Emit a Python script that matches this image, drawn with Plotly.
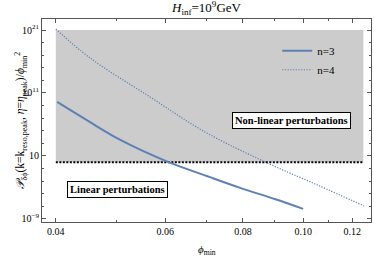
import math
import plotly.graph_objects as go

# ---- data ----
phi_n3 = [0.0402, 0.045, 0.0508, 0.0606, 0.07, 0.0792, 0.09, 0.100]
logP_n3 = [9.57, 6.6, 3.54, 0.05, -2.2, -4.08, -5.85, -7.41]

phi_n4 = [0.040, 0.0454, 0.0567, 0.0695, 0.0868, 0.1053, 0.1253]
logP_n4 = [21.16, 16.56, 10.37, 4.81, 0.05, -3.6, -6.94]

region_x = [0.040, 0.125]
threshold = 1.0
region_top = 1e21

xtick_vals = [0.04, 0.06, 0.08, 0.10, 0.12]
xtick_text = ["0.04", "0.06", "0.08", "0.10", "0.12"]
xminor_vals = [0.05, 0.07, 0.09, 0.11]
ytick_vals = [1e21, 1e11, 1e1, 1e-9]
ytick_text = ["10<sup>21</sup>", "10<sup>11</sup>", "10", "10<sup>−9</sup>"]
yminor_vals = [10.0 ** k for k in range(-9, 23, 2) if k not in (-9, 1, 11, 21)]

P_n3 = [10 ** v for v in logP_n3]
P_n4 = [10 ** v for v in logP_n4]

blue = "rgb(94,129,181)"
font = "Liberation Serif"
axc = "#555"

fig = go.Figure()
fig.add_trace(go.Scatter(
    x=[region_x[0], region_x[1], region_x[1], region_x[0], region_x[0]],
    y=[threshold, threshold, region_top, region_top, threshold],
    fill="toself", fillcolor="rgb(204,204,204)", line=dict(width=0),
    mode="lines", showlegend=False, hoverinfo="skip"))
fig.add_trace(go.Scatter(
    x=region_x, y=[threshold, threshold], mode="lines",
    line=dict(color="black", width=2, dash="2px,1.5px"), showlegend=False))
fig.add_trace(go.Scatter(
    x=phi_n3, y=P_n3, mode="lines", name="n=3",
    line=dict(color=blue, width=2, shape="spline")))
fig.add_trace(go.Scatter(
    x=phi_n4, y=P_n4, mode="lines", name="n=4",
    line=dict(color=blue, width=1.2, dash="1.2px,1.5px", shape="spline")))

fig.add_annotation(x=0.5, y=1, xref="paper", yref="paper", yanchor="bottom",
                   yshift=0, showarrow=False,
                   text="<i>H</i><sub>inf</sub>=10<sup>9</sup>GeV",
                   font=dict(family=font, size=13, color="black"))
fig.add_annotation(x=-1.018, y=6.7, showarrow=False,
                   text="<b>Non-linear perturbations</b>",
                   font=dict(family=font, size=10.5, color="black"),
                   bgcolor="white", bordercolor="black", borderwidth=1, borderpad=2)
fig.add_annotation(x=-1.2995, y=-4.26, showarrow=False,
                   text="<b>Linear perturbations</b>",
                   font=dict(family=font, size=10.5, color="black"),
                   bgcolor="white", bordercolor="black", borderwidth=1, borderpad=2)
fig.add_annotation(x=0.5, y=-19 / 203, xref="paper", yref="paper", yanchor="top",
                   showarrow=False, text="<i>ϕ</i><sub>min</sub>",
                   font=dict(family=font, size=11, color="black"))
fig.add_annotation(x=-32 / 329, y=0.5, xref="paper", yref="paper", textangle=-90,
                   showarrow=False,
                   text="<i>𝒫</i><sub>δϕ</sub>(k=k<sub>reso,peak</sub>, <i>η</i>=<i>η</i><sub>peak</sub>)/<i>ϕ</i><sub>min</sub><sup>2</sup>",
                   font=dict(family=font, size=11.5, color="black"))

fig.update_layout(
    width=374, height=256,
    margin=dict(l=42, r=3, t=19, b=34, autoexpand=False),
    paper_bgcolor="white", plot_bgcolor="white",
    font=dict(family=font, size=10, color="black"),
    legend=dict(x=0.715, y=0.915, xanchor="left", yanchor="top",
                bgcolor="rgba(0,0,0,0)", font=dict(family=font, size=11),
                itemwidth=30, tracegroupgap=0),
)
fig.update_xaxes(
    type="log", range=[-1.4202, -0.8908], automargin=False,
    tickvals=xtick_vals, ticktext=xtick_text, ticks="inside", ticklen=4,
    tickcolor=axc, showline=True, linecolor=axc, mirror="ticks",
    showgrid=False, zeroline=False,
    minor=dict(tickvals=xminor_vals, ticks="inside", ticklen=2, tickcolor=axc),
)
fig.update_yaxes(
    type="log", range=[-9.5, 22.75], automargin=False,
    tickvals=ytick_vals, ticktext=ytick_text, ticks="inside", ticklen=4,
    tickcolor=axc, showline=True, linecolor=axc, mirror="ticks",
    showgrid=False, zeroline=False,
    minor=dict(tickvals=yminor_vals, ticks="inside", ticklen=2, tickcolor=axc),
)

fig.write_html("out.html", config={"displayModeBar": False},
               post_script="document.body.style.margin='0';")
